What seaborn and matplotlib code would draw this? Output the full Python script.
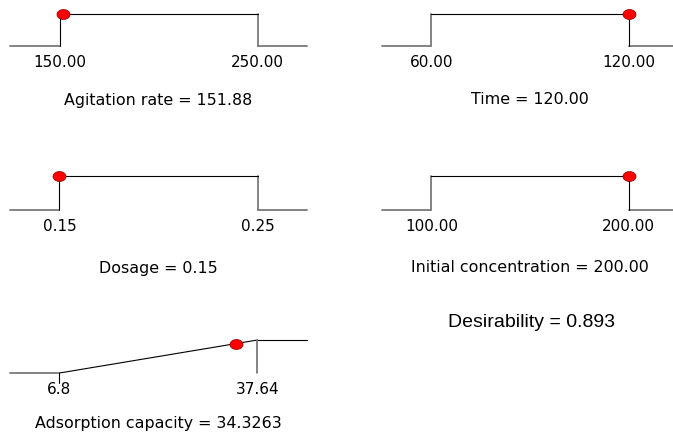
import numpy as np
import pandas as pd
import matplotlib
matplotlib.use("Agg")
import matplotlib.pyplot as plt
import seaborn as sns
from matplotlib.path import Path
from matplotlib.transforms import Affine2D

# ---------------- data ----------------
factor_names = ["Agitation rate", "Time", "Dosage", "Initial concentration"]
factor_low = [150.0, 60.0, 0.15, 100.0]
factor_high = [250.0, 120.0, 0.25, 200.0]
factor_opt = [151.88, 120.00, 0.15, 200.00]
factor_low_labels = ["150.00", "60.00", "0.15", "100.00"]
factor_high_labels = ["250.00", "120.00", "0.25", "200.00"]
factor_opt_labels = ["151.88", "120.00", "0.15", "200.00"]

response_name = "Adsorption capacity"
response_low = 6.8
response_high = 37.64
response_value = 34.3263
response_low_label = "6.8"
response_high_label = "37.64"
response_value_label = "34.3263"

desirability = 0.893
desirability_label = "0.893"

# ---------------- style ----------------
sns.set_theme(style="white")
plt.rcParams["font.family"] = ["DejaVu Sans"]

W, H = 673, 440
fig = plt.figure(figsize=(W / 100, H / 100), dpi=100)

GRAY = "#7a7a7a"
BLACK = "#000000"
LW_G = 1.3
LW_B = 0.8
dot_marker = Path.unit_circle().transformed(Affine2D().scale(1.3, 1.0))


def add_ax(left, top, right, bottom):
    return fig.add_axes([left / W, 1 - bottom / H, (right - left) / W, (bottom - top) / H])


def seg(ax, xs, ys, color, lw):
    sns.lineplot(x=xs, y=ys, ax=ax, color=color, linewidth=lw, estimator=None,
                 sort=False, clip_on=False, legend=False)


def dot(ax, x, y):
    sns.scatterplot(x=[x], y=[y], ax=ax, marker=dot_marker, s=88, color="#FF0000",
                    edgecolor="#900000", linewidth=0.5, zorder=5, clip_on=False,
                    legend=False)


def style(ax, lo, hi, lo_lab, hi_lab, xmin, xmax):
    ax.set_xlim(xmin, xmax)
    ax.set_ylim(0, 1)
    for s in ax.spines.values():
        s.set_visible(False)
    ax.set_facecolor("none")
    ax.grid(False)
    ax.set_xticks([lo, hi], labels=[lo_lab, hi_lab])
    ax.set_yticks([])
    ax.tick_params(axis="x", length=0, pad=6.5, labelsize=11, labelcolor="black")
    ax.set_xlabel("")
    ax.set_ylabel("")


def title(ax, text, off_px):
    ax.annotate(text, xy=(0.5, 0), xycoords="axes fraction",
                xytext=(0, -off_px * 0.72), textcoords="offset points",
                ha="center", va="center", fontsize=11.4, color="black")


boxes = [(10, 14, 307, 46), (382, 14, 678, 46), (10, 176.5, 307, 210), (382, 176.5, 678, 210)]
title_off = [54, 54, 58, 58]

for i, name in enumerate(factor_names):
    lo, hi, opt = factor_low[i], factor_high[i], factor_opt[i]
    r = hi - lo
    xmin, xmax = lo - 0.25 * r, hi + 0.25 * r
    ax = add_ax(*boxes[i])
    near_low = (opt - lo) <= (hi - opt)
    seg(ax, [xmin, lo], [0, 0], GRAY, LW_G)
    seg(ax, [hi, xmax], [0, 0], GRAY, LW_G)
    seg(ax, [lo, lo], [0, 1], BLACK if near_low else GRAY, LW_B if near_low else LW_G)
    seg(ax, [hi, hi], [1, 0], GRAY if near_low else BLACK, LW_G if near_low else LW_B)
    seg(ax, [lo, hi], [1, 1], BLACK, LW_B)
    dot(ax, opt, 1)
    style(ax, lo, hi, factor_low_labels[i], factor_high_labels[i], xmin, xmax)
    title(ax, f"{name} = {factor_opt_labels[i]}", title_off[i])

# response panel
lo, hi = response_low, response_high
r = hi - lo
xmin, xmax = lo - 0.25 * r, hi + 0.25 * r
ax = add_ax(10, 340, 307, 373)
seg(ax, [xmin, lo], [0, 0], GRAY, LW_G)
seg(ax, [lo, hi], [0, 1], BLACK, LW_B)
seg(ax, [hi, xmax], [1, 1], BLACK, LW_B)
seg(ax, [hi, hi], [1, 0], GRAY, LW_G)
seg(ax, [lo, lo], [0, -0.3], BLACK, LW_B)
dot(ax, response_value, desirability)
style(ax, lo, hi, response_low_label, response_high_label, xmin, xmax)
title(ax, f"{response_name} = {response_value_label}", 50)

fig.text(531 / W, 1 - 322 / H, f"Desirability = {desirability_label}",
         family="Liberation Sans", fontsize=14, ha="center", va="center", color="black")

fig.savefig("out.png", dpi=100)
